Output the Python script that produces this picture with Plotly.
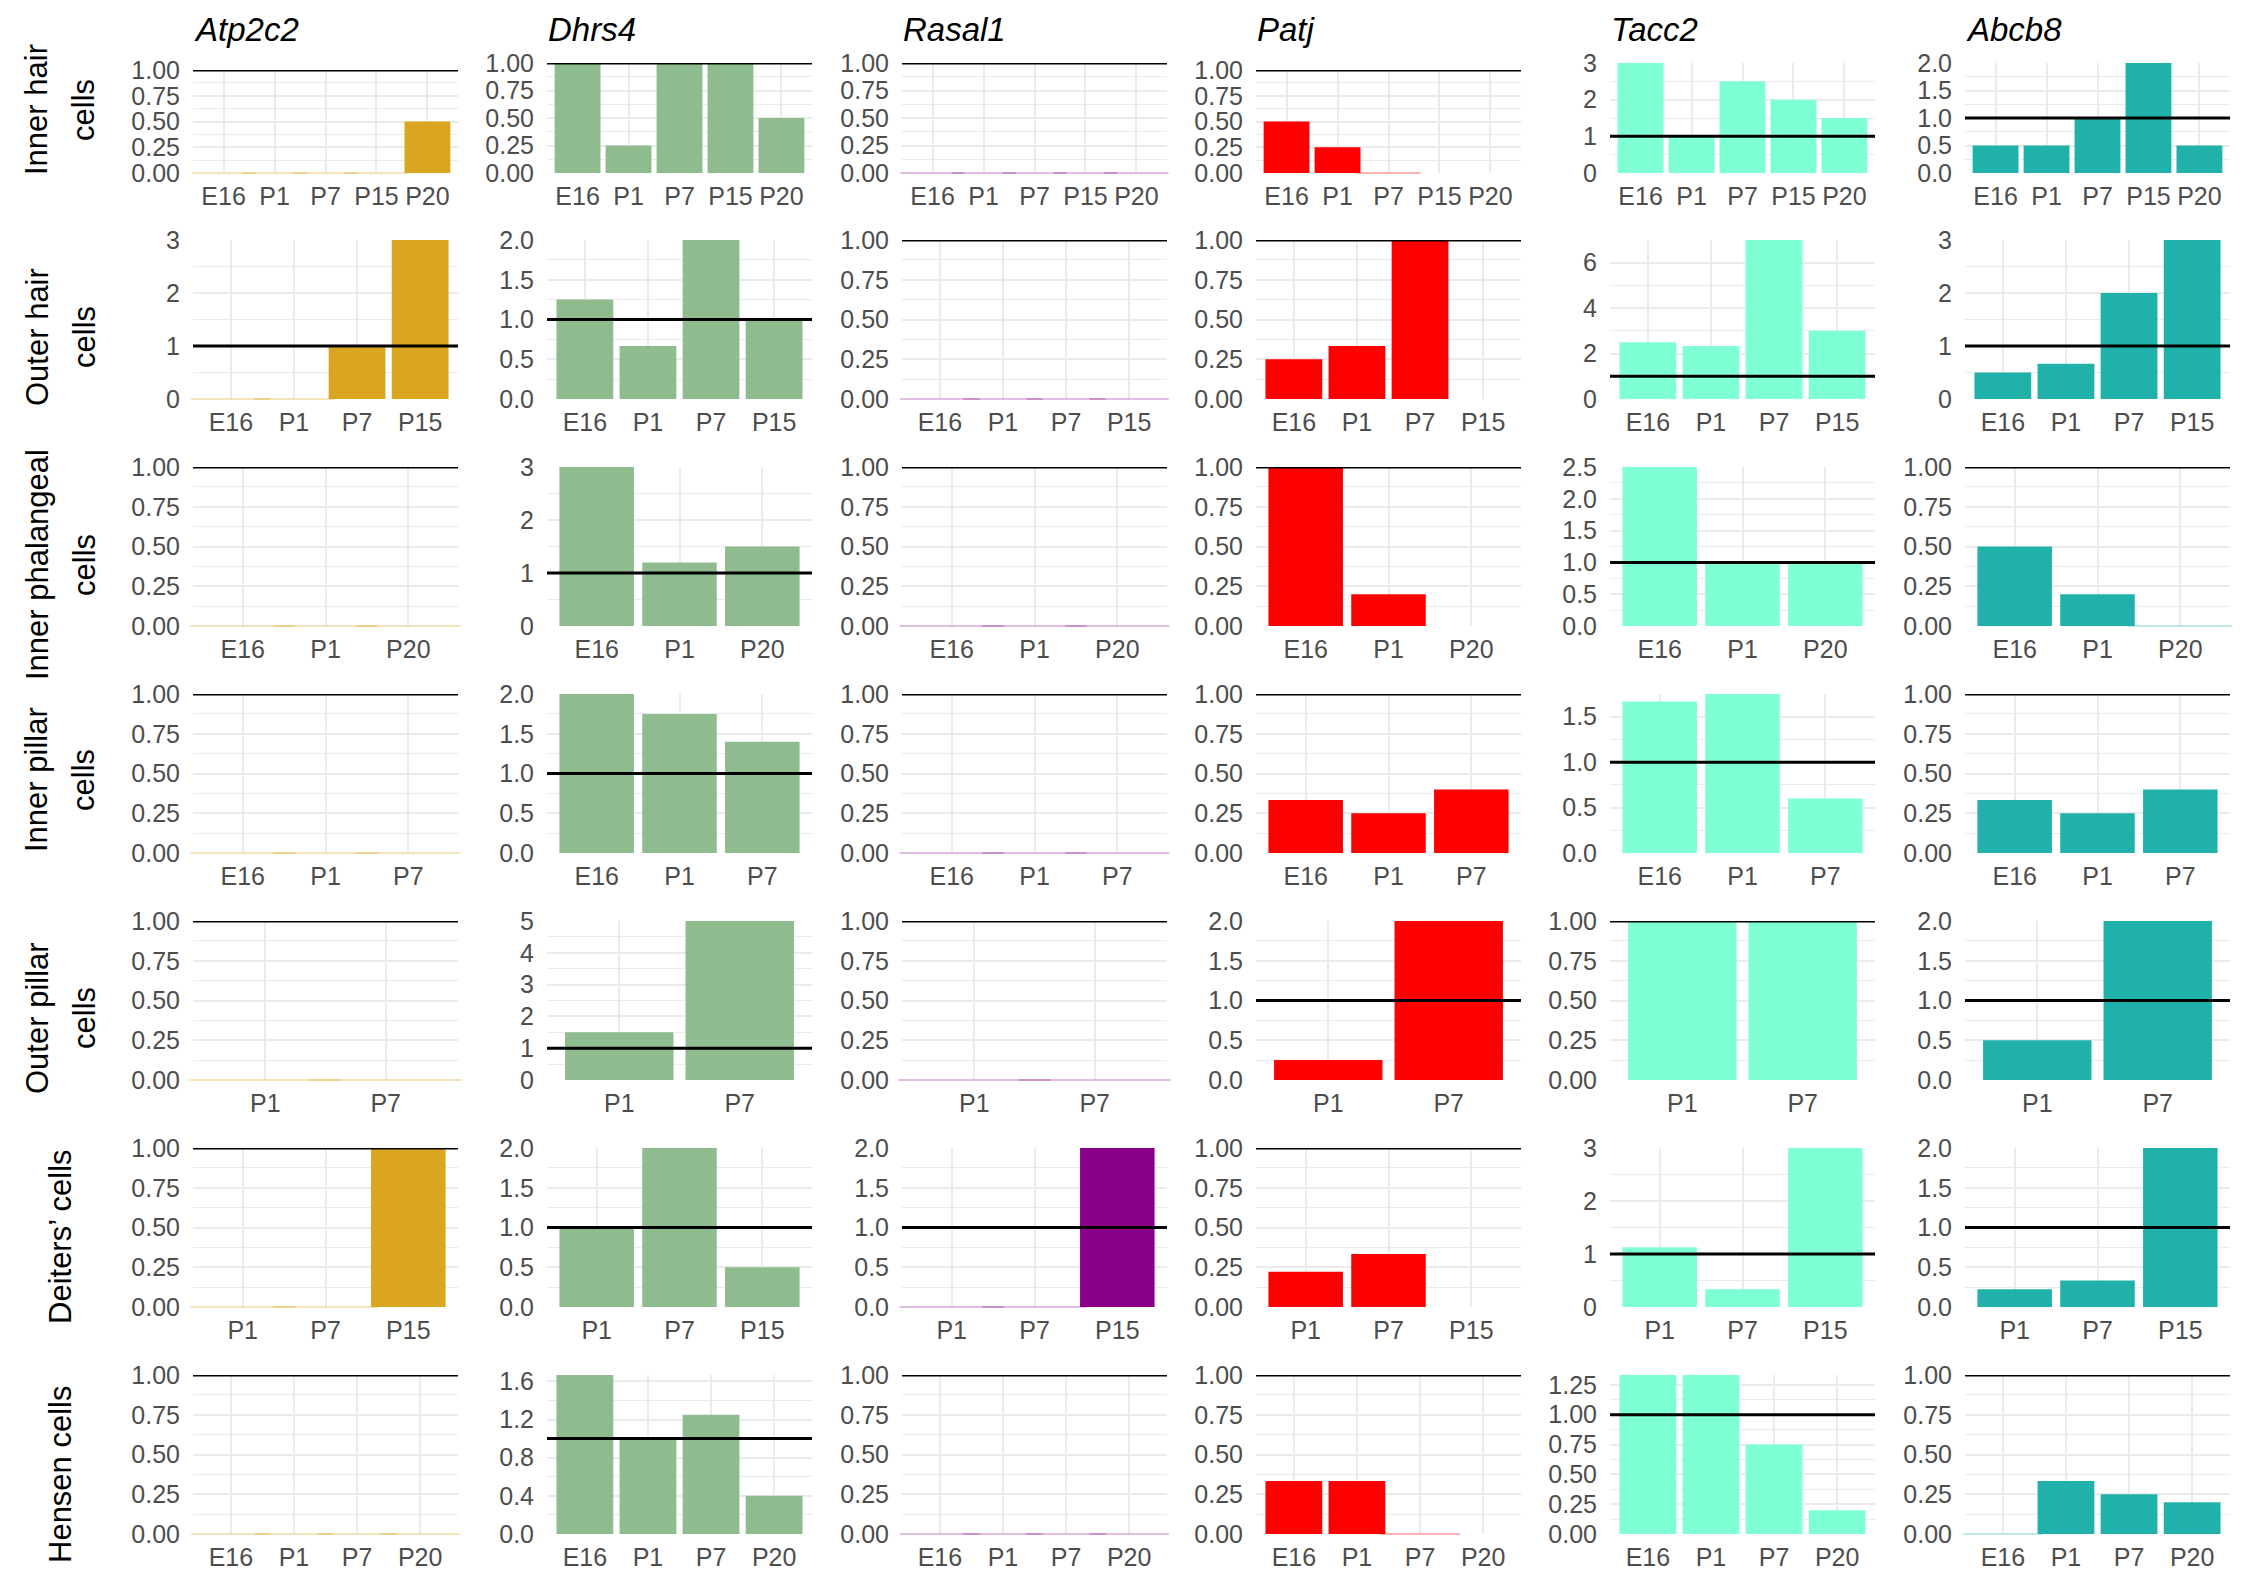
import plotly.graph_objects as go

# ---------------- data ----------------
GENES = ["Atp2c2", "Dhrs4", "Rasal1", "Patj", "Tacc2", "Abcb8"]
COLORS = ["#DAA520", "#8FBC8F", "#8B008B", "#FF0000", "#7FFFD4", "#20B2AA"]
ZERO_COLORS = ["rgba(218,165,32,0.3)", "rgba(143,188,143,0.3)", "rgba(139,0,139,0.25)",
               "rgba(255,0,0,0.3)", "rgba(127,255,212,0.4)", "rgba(32,178,170,0.3)"]

CELL_TYPES = [["Inner hair", "cells"], ["Outer hair", "cells"], ["Inner phalangeal", "cells"],
              ["Inner pillar", "cells"], ["Outer pillar", "cells"], ["Deiters’ cells"],
              ["Hensen cells"]]

STAGES = [
    ["E16", "P1", "P7", "P15", "P20"],
    ["E16", "P1", "P7", "P15"],
    ["E16", "P1", "P20"],
    ["E16", "P1", "P7"],
    ["P1", "P7"],
    ["P1", "P7", "P15"],
    ["E16", "P1", "P7", "P20"],
]

N = None
ATP2C2 = [[0, 0, 0, 0, 0.5], [0, 0, 1, 3], [0, 0, 0], [0, 0, 0], [0, 0], [0, 0, 1], [0, 0, 0, 0]]
DHRS4 = [[1, 0.25, 1, 1, 0.5], [1.25, 0.667, 2, 1], [3, 1.2, 1.5], [2, 1.75, 1.4], [1.5, 5],
         [1, 2, 0.5], [1.667, 1, 1.25, 0.4]]
RASAL1 = [[0, 0, 0, 0, 0], [0, 0, 0, 0], [0, 0, 0], [0, 0, 0], [0, 0], [0, 0, 2], [0, 0, 0, 0]]
PATJ = [[0.5, 0.25, 0, N, N], [0.25, 0.333, 1, N], [1, 0.2, N], [0.333, 0.25, 0.4], [0.25, 2],
        [0.222, 0.333, N], [0.333, 0.333, 0, N]]
TACC2 = [[3, 1, 2.5, 2, 1.5], [2.5, 2.33, 7, 3], [2.5, 1, 1], [1.667, 1.75, 0.6], [1, 1],
         [1.125, 0.333, 3], [1.333, 1.333, 0.75, 0.2]]
ABCB8 = [[0.5, 0.5, 1, 2, 0.5], [0.5, 0.667, 2, 3], [0.5, 0.2, 0], [0.333, 0.25, 0.4], [0.5, 2],
         [0.222, 0.333, 2], [0, 0.333, 0.25, 0.2]]
VALUES = [ATP2C2, DHRS4, RASAL1, PATJ, TACC2, ABCB8]

# y tick step per panel (rows x genes)
Y_TICK_STEP = [
    [0.25, 0.25, 0.25, 0.25, 1, 0.5],
    [1, 0.5, 0.25, 0.25, 2, 1],
    [0.25, 1, 0.25, 0.25, 0.5, 0.25],
    [0.25, 0.5, 0.25, 0.25, 0.5, 0.25],
    [0.25, 1, 0.25, 0.5, 0.25, 0.5],
    [0.25, 0.5, 0.5, 0.25, 1, 0.5],
    [0.25, 0.4, 0.25, 0.25, 0.25, 0.25],
]
REF_LINE = 1

# ---------------- layout geometry (pixels in the final page) ----------------
PAGE_W, PAGE_H = 2243, 1587
OFF = 8                      # default body margin of the html page
W, H = PAGE_W - OFF, PAGE_H - OFF
COL_LEFT = [193, 547, 902, 1256, 1610, 1965]
PANEL_W = 265
ROW1_TOP = [70, 63, 63, 70, 63, 63]
ROW_TOP = [None, 240, 467, 694, 921, 1148, 1375]
ROW_BOTTOM = [173, 399, 626, 853, 1080, 1307, 1534]
ROW_LABEL_Y = [110, 337, 565, 780, 1018, 1237, 1475]
ROW_LABEL_X_TWO = [37, 84]
ROW_LABEL_X_ONE = 60
TITLE_TOP = 10

FONT = "Liberation Sans, Arial, sans-serif"
GRID = "#EBEBEB"
TICKCOL = "#4D4D4D"


def px_x(p):
    return (p - OFF) / W


def px_y(p):
    return 1 - (p - OFF) / H


fig = go.Figure()
layout = {}
shapes = []
annotations = []


def decimals(step):
    if step >= 1:
        return 0
    if abs(step * 10 - round(step * 10)) < 1e-9:
        return 1
    return 2


k = 0
for r in range(7):
    cats = STAGES[r]
    n = len(cats)
    for c in range(6):
        k += 1
        suffix = "" if k == 1 else str(k)
        xa, ya = "x" + suffix, "y" + suffix
        vals = VALUES[c][r]
        top_px = ROW1_TOP[c] if r == 0 else ROW_TOP[r]
        bot_px = ROW_BOTTOM[r]
        xdom = [px_x(COL_LEFT[c]), px_x(COL_LEFT[c] + PANEL_W)]
        ydom = [px_y(bot_px), px_y(top_px)]

        fig.add_trace(go.Bar(x=cats, y=vals, xaxis=xa, yaxis=ya,
                             marker=dict(color=COLORS[c], line=dict(width=0)),
                             hoverinfo="x+y", showlegend=False))
        zx = [cat for cat, v in zip(cats, vals) if v == 0]
        zy = [v for v in vals if v == 0]
        if zx:
            bar_px = 0.9 * PANEL_W / (n + 0.2)
            fig.add_trace(go.Scatter(x=zx, y=zy, xaxis=xa, yaxis=ya, mode="markers",
                                     marker=dict(symbol="line-ew", size=bar_px,
                                                 line=dict(color=ZERO_COLORS[c], width=2)),
                                     cliponaxis=False, hoverinfo="skip", showlegend=False))

        numeric = [v for v in vals if v is not None]
        ymax = max([REF_LINE] + numeric)
        step = Y_TICK_STEP[r][c]
        d = decimals(step)
        layout["xaxis" + suffix] = dict(
            domain=xdom, anchor=ya, type="category", categoryorder="array",
            categoryarray=cats, range=[-0.6, n - 0.4], showgrid=True, gridcolor=GRID,
            gridwidth=2, zeroline=False, showline=False, ticks="", automargin=False,
            tickfont=dict(size=25, color=TICKCOL, family=FONT), ticklabelstandoff=6,
            fixedrange=True)
        layout["yaxis" + suffix] = dict(
            domain=ydom, anchor=xa, range=[0, ymax], tick0=0, dtick=step,
            tickformat=f".{d}f", showgrid=True, gridcolor=GRID, gridwidth=2,
            minor=dict(dtick=step / 2, tick0=0, showgrid=True, gridcolor=GRID, gridwidth=1.1),
            zeroline=False, showline=False, ticks="", automargin=False,
            tickfont=dict(size=25, color=TICKCOL, family=FONT), ticklabelstandoff=12,
            fixedrange=True)
        shapes.append(dict(type="line", xref=xa + " domain", yref=ya, x0=0, x1=1,
                           y0=REF_LINE, y1=REF_LINE, line=dict(color="black", width=3),
                           layer="above"))
        if r == 0:
            annotations.append(dict(text=f"<i>{GENES[c]}</i>", xref=xa + " domain", x=0,
                                    xanchor="left", yref="paper", y=px_y(TITLE_TOP),
                                    yanchor="top", showarrow=False, borderpad=0,
                                    font=dict(size=33, color="black", family=FONT)))

for r in range(7):
    lines = CELL_TYPES[r]
    xs = ROW_LABEL_X_TWO if len(lines) == 2 else [ROW_LABEL_X_ONE]
    for line, xp in zip(lines, xs):
        annotations.append(dict(text=line, xref="paper", yref="paper",
                                x=px_x(xp), y=px_y(ROW_LABEL_Y[r]),
                                xanchor="center", yanchor="middle", textangle=-90,
                                showarrow=False,
                                font=dict(size=31, color="black", family=FONT)))

fig.update_layout(**layout)
fig.update_layout(width=W, height=H,
                  margin=dict(l=0, r=0, t=0, b=0, pad=0, autoexpand=False),
                  paper_bgcolor="white", plot_bgcolor="white", bargap=0.1,
                  showlegend=False, shapes=shapes, annotations=annotations,
                  font=dict(family=FONT))

fig.write_html("out.html")
